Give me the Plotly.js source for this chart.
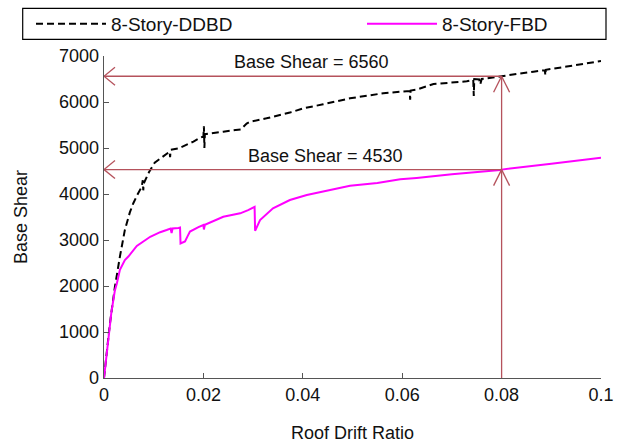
<!DOCTYPE html>
<html>
<head>
<meta charset="utf-8">
<script src="https://cdn.plot.ly/plotly-3.0.1.min.js"></script>
<style>html,body{margin:0;padding:0;background:#fff;}#chart{width:624px;height:443px;}</style>
</head>
<body>
<div id="chart"></div>
<script>
// ---- data ----
const ddbdDrift = [0,0.0002,0.0006,0.0012,0.0022,0.0032,0.0042,0.0052,0.0059,0.0068,0.0076,0.0078,0.0079,0.0080,0.0091,0.0102,0.0113,0.0125,0.0132,0.0133,0.0134,0.0150,0.0165,0.0180,0.0195,0.0200,0.0201,0.0202,0.0203,0.0220,0.0240,0.0265,0.0275,0.0287,0.0294,0.0327,0.0361,0.0374,0.0400,0.0428,0.0441,0.0495,0.0562,0.0596,0.0615,0.0616,0.0617,0.0629,0.0663,0.0730,0.0743,0.0744,0.0745,0.0755,0.0757,0.0760,0.0797,0.0800,0.0864,0.0887,0.0888,0.0889,0.0931,0.0998,0.1000];
const ddbdShear = [0,170,600,1190,1985,2640,3220,3600,3800,4000,4160,4300,4080,4230,4485,4680,4775,4880,4920,4800,4960,4990,5060,5140,5230,5250,5470,5000,5300,5330,5355,5390,5400,5530,5570,5645,5740,5770,5860,5930,5950,6080,6190,6225,6240,6050,6250,6270,6390,6450,6480,6130,6500,6490,6380,6500,6550,6560,6660,6690,6580,6700,6770,6880,6890];

const fbdDrift = [0,0.00087,0.0015,0.0022,0.0026,0.0032,0.0042,0.0049,0.0066,0.0093,0.0113,0.0126,0.0134,0.0136,0.0138,0.0150,0.0153,0.0154,0.0158,0.0163,0.0168,0.0173,0.0190,0.0200,0.0201,0.0203,0.0240,0.0274,0.0290,0.0300,0.0303,0.0304,0.0306,0.0314,0.0340,0.0374,0.0408,0.0455,0.0495,0.0550,0.0596,0.0629,0.0700,0.0797,0.0800,0.0900,0.0998,0.1000];
const fbdShear = [0,826,1440,1910,2060,2350,2565,2640,2870,3070,3170,3217,3250,3150,3250,3260,3270,2925,2940,2970,3080,3185,3280,3325,3230,3330,3505,3580,3650,3710,3720,3200,3240,3435,3690,3870,3980,4080,4180,4240,4320,4350,4430,4520,4530,4660,4775,4790];

const seriesNames = ['8-Story-DDBD', '8-Story-FBD'];
const markDrift = 0.08;
const markShears = [6560, 4530];
const markLabels = ['Base Shear = 6560', 'Base Shear = 4530'];
const labelDrift = [0.0417, 0.0445];
const labelShear = [6870, 4826];
const xTicks = [0, 0.02, 0.04, 0.06, 0.08, 0.1];
const xTickText = ['0', '0.02', '0.04', '0.06', '0.08', '0.1'];
const yTicks = [0, 1000, 2000, 3000, 4000, 5000, 6000, 7000];

// ---- layout geometry ----
const W = 624, H = 443;
const M = {l: 104, r: 23, t: 56, b: 65, autoexpand: false};
const pw = W - M.l - M.r, ph = H - M.t - M.b;
const px2paperX = p => (p - M.l) / pw;
const px2paperY = p => 1 + (M.t - p) / ph;

const arrowColor = '#b5525c';
const axisColor = '#555555';
const fontFam = 'Liberation Sans, Arial, sans-serif';

const traces = [
  {x: ddbdDrift, y: ddbdShear, mode: 'lines', name: seriesNames[0], legend: 'legend',
   line: {color: '#000000', width: 2, dash: '7px,4px'}},
  {x: fbdDrift, y: fbdShear, mode: 'lines', name: seriesNames[1], legend: 'legend2',
   line: {color: '#ff00ff', width: 2}}
];

const shapes = [];
const lineStyle = {color: arrowColor, width: 1.3};
markShears.forEach(v => {
  shapes.push({type: 'line', xref: 'x', yref: 'y', x0: 0, x1: markDrift, y0: v, y1: v, line: lineStyle});
  [-9, 9].forEach(d => shapes.push({type: 'line', xref: 'x', yref: 'y',
    xsizemode: 'pixel', xanchor: 0, x0: 0, x1: 11,
    ysizemode: 'pixel', yanchor: v, y0: 0, y1: d, line: lineStyle}));
  [-8, 8].forEach(d => shapes.push({type: 'line', xref: 'x', yref: 'y',
    xsizemode: 'pixel', xanchor: markDrift, x0: 0, x1: d,
    ysizemode: 'pixel', yanchor: v, y0: 0, y1: -16, line: lineStyle}));
});
shapes.push({type: 'line', xref: 'x', yref: 'y', x0: markDrift, x1: markDrift, y0: 0, y1: Math.max(...markShears), line: lineStyle});
// legend box
shapes.push({type: 'rect', xref: 'paper', yref: 'paper',
  x0: px2paperX(22.7), x1: px2paperX(606), y0: px2paperY(39.3), y1: px2paperY(8.3),
  line: {color: '#000000', width: 1.2}, fillcolor: 'rgba(0,0,0,0)'});

const annotations = markLabels.map((t, i) => ({
  x: labelDrift[i], y: labelShear[i], xref: 'x', yref: 'y', text: t, showarrow: false,
  font: {size: 18, color: '#111111', family: fontFam}
}));

const axisCommon = {
  showline: true, linecolor: axisColor, linewidth: 1.3, ticks: 'inside', ticklen: 5,
  tickcolor: axisColor, tickwidth: 1, showgrid: false, zeroline: false, mirror: false,
  tickfont: {size: 18, color: '#111111', family: fontFam}, automargin: false
};

const legendCommon = {orientation: 'h', xanchor: 'left', y: px2paperY(24), yanchor: 'middle',
  bgcolor: 'rgba(0,0,0,0)', borderwidth: 0, itemwidth: 70,
  font: {size: 19, color: '#111111', family: fontFam}};

const layout = {
  width: W, height: H, margin: M, paper_bgcolor: '#ffffff', plot_bgcolor: '#ffffff',
  font: {family: fontFam, color: '#111111'},
  showlegend: true,
  legend: Object.assign({}, legendCommon, {x: px2paperX(31)}),
  legend2: Object.assign({}, legendCommon, {x: px2paperX(362)}),
  xaxis: Object.assign({}, axisCommon, {range: [0, 0.1], tickvals: xTicks, ticktext: xTickText,
    title: {text: 'Roof Drift Ratio', standoff: 22, font: {size: 18, color: '#111111', family: fontFam}}}),
  yaxis: Object.assign({}, axisCommon, {range: [0, 7000], tickvals: yTicks,
    title: {text: 'Base Shear', standoff: 26, font: {size: 18, color: '#111111', family: fontFam}}}),
  shapes: shapes,
  annotations: annotations
};

Plotly.newPlot('chart', traces, layout, {staticPlot: true, displayModeBar: false});
</script>
</body>
</html>
